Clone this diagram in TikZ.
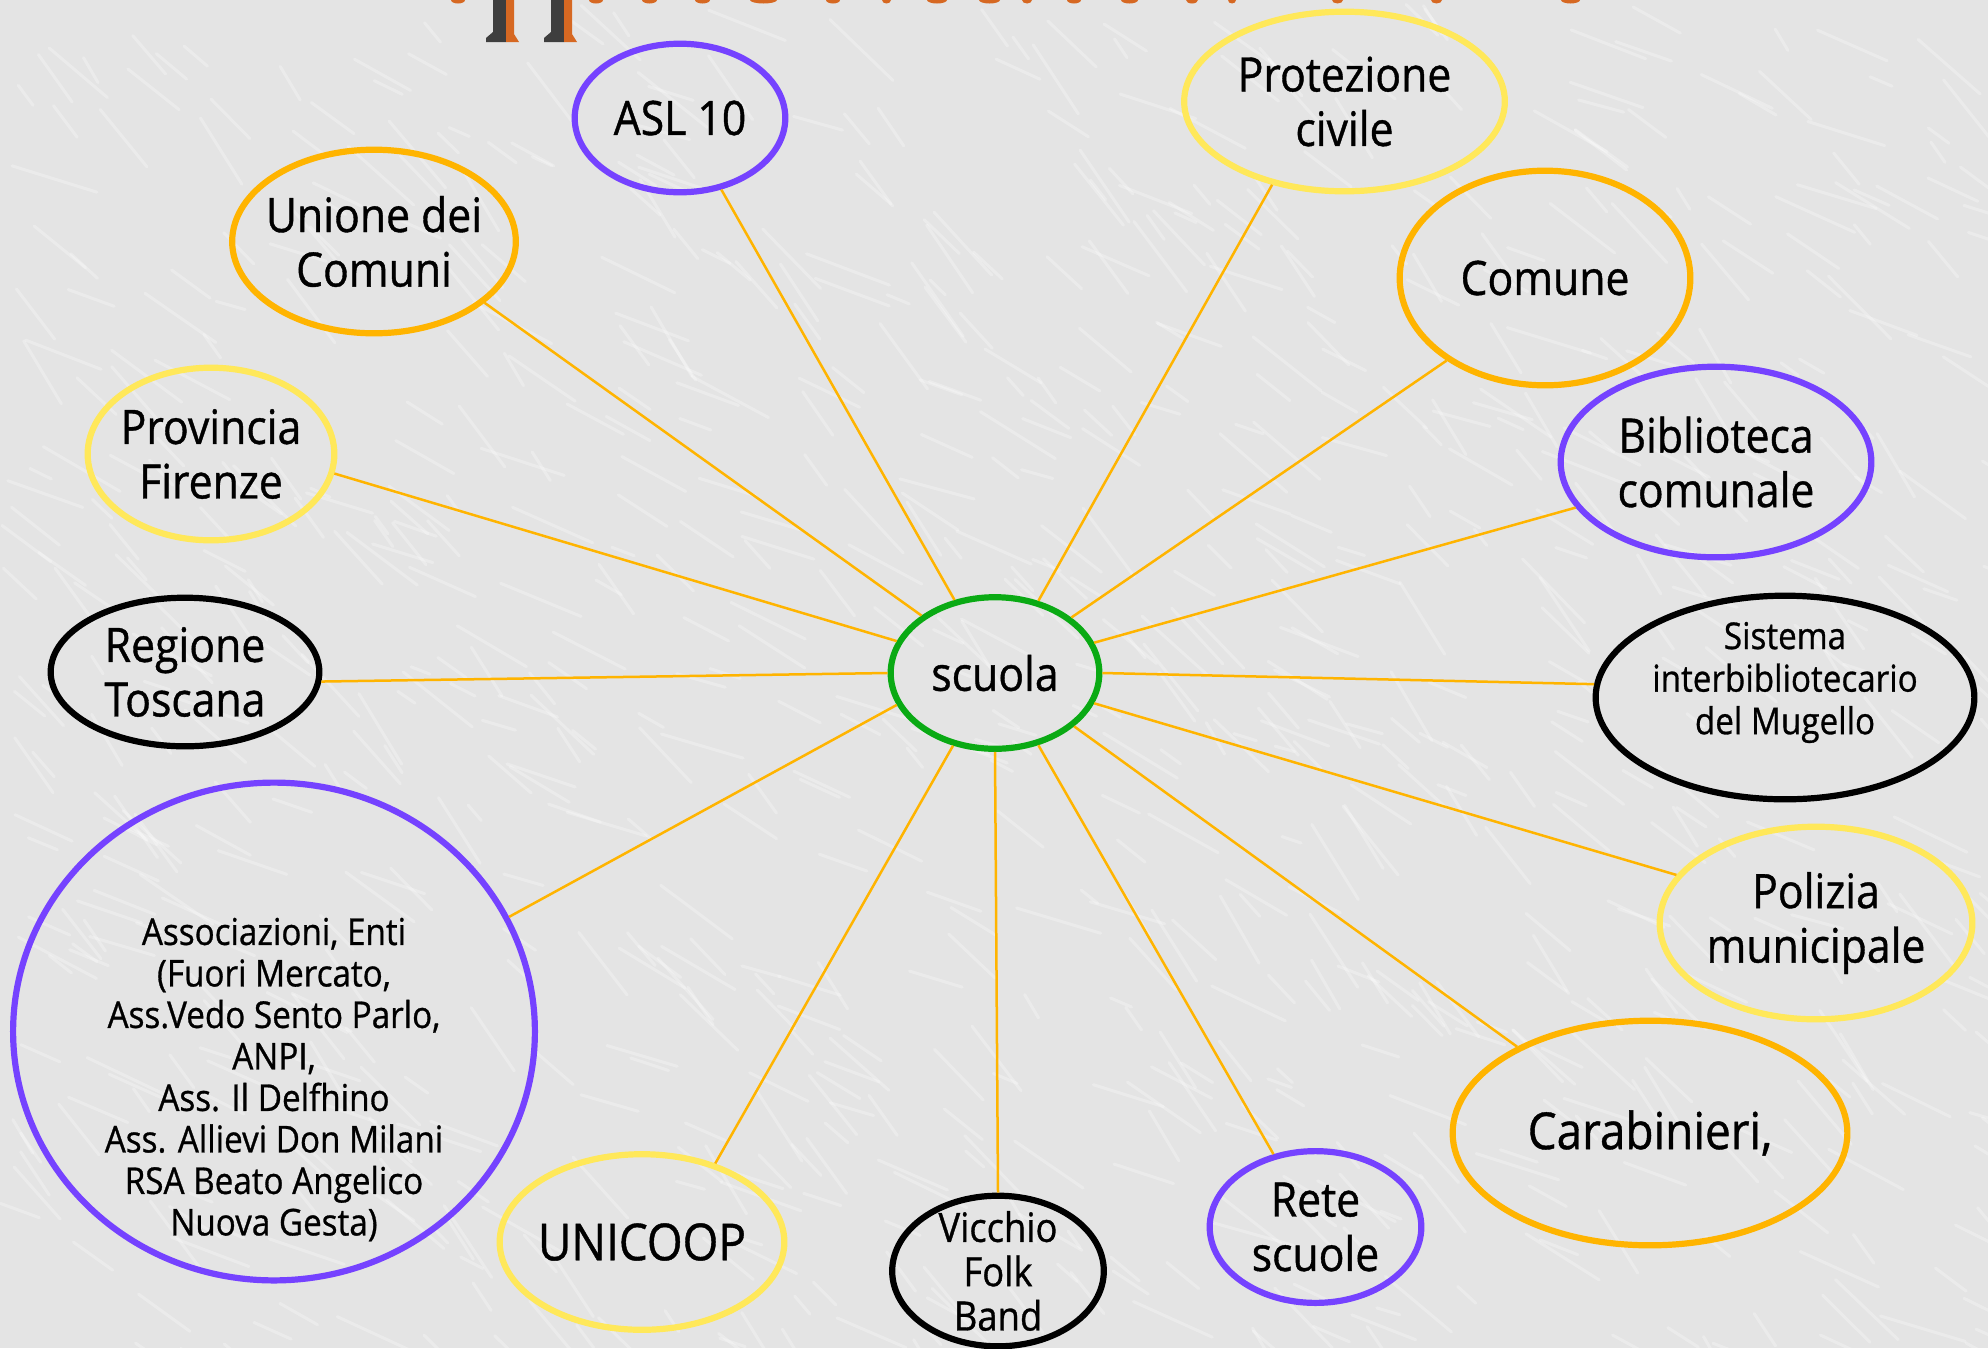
\documentclass[tikz,border=0pt]{standalone}
\usepackage{fontspec}
\setmainfont{Open Sans}[FakeStretch=0.9,FakeBold=0.8]
\usetikzlibrary{shapes.geometric}
\definecolor{cpurple}{RGB}{117,66,255}
\definecolor{corange}{RGB}{255,180,0}
\definecolor{cyellow}{RGB}{255,232,90}
\definecolor{cgreen}{RGB}{10,170,20}
\definecolor{bgc}{RGB}{228,228,228}
\definecolor{ttlorange}{RGB}{214,104,34}
\definecolor{ttlshadow}{RGB}{62,62,62}
\begin{document}
\begin{tikzpicture}[x=0.01cm,y=-0.01cm,
  oval/.style={ellipse, draw, line width=0.062cm, inner sep=0pt},
  link/.style={draw=corange, line width=0.025cm},
  tbig/.style={font=\fontsize{13.5}{15.5}\selectfont, align=center, inner sep=0pt},
  tlarge/.style={font=\fontsize{14.5}{16.5}\selectfont, align=center, inner sep=0pt},
  tsmall/.style={font=\fontsize{10.5}{11.8}\selectfont, align=center, inner sep=0pt},
  tmid/.style={font=\fontsize{10.5}{12.1}\selectfont, align=center, inner sep=0pt},
  tband/.style={font=\fontsize{11.5}{12.6}\selectfont, align=center, inner sep=0pt},
]
% background
\fill[bgc] (0,0) rectangle (1988,1348);
\useasboundingbox (0,0) rectangle (1988,1348);
\begin{scope}
  \clip (0,0) rectangle (1988,1348);
  \pgfmathsetseed{42}
  \foreach \i in {1,...,900}{
    \pgfmathsetmacro{\px}{rnd*2000}
    \pgfmathsetmacro{\py}{rnd*1360}
    \pgfmathsetmacro{\pa}{15+rnd*45}
    \pgfmathsetmacro{\pl}{20+rnd*70}
    \draw[white, opacity=0.28, line width=0.03cm, line cap=round] (\px,\py) -- ++(\pa:\pl);
  }
  % fragments of the cut-off title
  \fill[ttlshadow] (493,0) -- (506,0) -- (506,42) -- (486,42) -- (486,38) -- (493,32) -- cycle;
  \fill[ttlorange] (506,0) -- (514,0) -- (514,34) -- (519,42) -- (506,42) -- cycle;
  \fill[ttlshadow] (551,0) -- (564,0) -- (564,42) -- (544,42) -- (544,38) -- (551,32) -- cycle;
  \fill[ttlorange] (564,0) -- (572,0) -- (572,34) -- (577,42) -- (564,42) -- cycle;
  \foreach \a/\b in {449/467,587/605,640/659,693/712,748/779,824/842,880/893,925/949,977/1002,1020/1034,1065/1083,1119/1140,1184/1200,1226/1238,1330/1345,1429/1444,1559/1582}{
    \fill[ttlorange] ({(\a+\b)/2},0) ellipse ({(\b-\a)/2-2} and 3.5);
  }
\end{scope}

% nodes
\node[oval, draw=cgreen, minimum width=2.085cm, minimum height=1.515cm,
  label={[tbig]center:{scuola}}] (scuola) at (995,673) {};
\node[oval, draw=cpurple, minimum width=2.105cm, minimum height=1.485cm,
  label={[tbig]center:{ASL 10}}] (asl) at (680,118) {};
\node[oval, draw=corange, minimum width=2.835cm, minimum height=1.835cm,
  label={[tbig]center:{Unione dei\\Comuni}}] (unione) at (374,241.5) {};
\node[oval, draw=cyellow, minimum width=2.465cm, minimum height=1.725cm,
  label={[tbig]center:{Provincia\\Firenze}}] (provincia) at (211,454) {};
\node[oval, draw=black, minimum width=2.685cm, minimum height=1.485cm,
  label={[tbig]center:{Regione\\Toscana}}] (regione) at (185,672) {};
\node[oval, draw=cpurple, minimum width=5.215cm, minimum height=4.975cm,
  label={[tsmall, yshift=-0.48cm]center:{Associazioni, Enti\\(Fuori Mercato,\\Ass.Vedo Sento Parlo,\\ANPI,\\Ass. Il Delfhino\\Ass. Allievi Don Milani\\RSA Beato Angelico\\Nuova Gesta)}}] (assoc) at (274,1031.5) {};
\node[oval, draw=cyellow, minimum width=2.845cm, minimum height=1.755cm,
  label={[tlarge]center:{UNICOOP}}] (unicoop) at (642,1242) {};
\node[oval, draw=black, minimum width=2.115cm, minimum height=1.505cm,
  label={[tband]center:{Vicchio\\Folk\\Band}}] (vicchio) at (998,1271) {};
\node[oval, draw=cpurple, minimum width=2.115cm, minimum height=1.517cm,
  label={[tbig]center:{Rete\\scuole}}] (rete) at (1315.5,1227) {};
\node[oval, draw=corange, minimum width=3.945cm, minimum height=2.245cm,
  label={[tlarge]center:{Carabinieri,}}] (carab) at (1650,1133) {};
\node[oval, draw=cyellow, minimum width=3.125cm, minimum height=1.925cm,
  label={[tbig]center:{Polizia\\municipale}}] (polizia) at (1816,923) {};
\node[oval, draw=black, minimum width=3.785cm, minimum height=2.035cm,
  label={[tmid, yshift=0.15cm]center:{Sistema\\interbibliotecario\\del Mugello}}] (sistema) at (1785,697.5) {};
\node[oval, draw=cpurple, minimum width=3.105cm, minimum height=1.905cm,
  label={[tbig]center:{Biblioteca\\comunale}}] (biblio) at (1716,462) {};
\node[oval, draw=corange, minimum width=2.905cm, minimum height=2.145cm,
  label={[tbig]center:{Comune}}] (comune) at (1545,278) {};
\node[oval, draw=cyellow, minimum width=3.205cm, minimum height=1.795cm,
  label={[tbig]center:{Protezione\\civile}}] (protezione) at (1344.5,101.5) {};

% connectors
\draw[link] (scuola.119.2) -- (asl.-60.8);
\draw[link] (scuola.142.4) -- (unione.-29.6);
\draw[link] (scuola.162) -- (provincia.-9.3);
\draw[link] (scuola.180) -- (regione.-4.2);
\draw[link] (scuola.198) -- (assoc.26.8);
\draw[link] (scuola.240.8) -- (unicoop.47.7);
\draw[link] (scuola.-90) -- (vicchio.90);
\draw[link] (scuola.-59.3) -- (rete.120.8);
\draw[link] (scuola.-34.9) -- (carab.147.4);
\draw[link] (scuola.-17.4) -- (polizia.161.1);
\draw[link] (scuola.0) -- (sistema.176.1);
\draw[link] (scuola.17.4) -- (biblio.198.4);
\draw[link] (scuola.36.7) -- (comune.220.3);
\draw[link] (scuola.59.3) -- (protezione.229.6);
\end{tikzpicture}
\end{document}
